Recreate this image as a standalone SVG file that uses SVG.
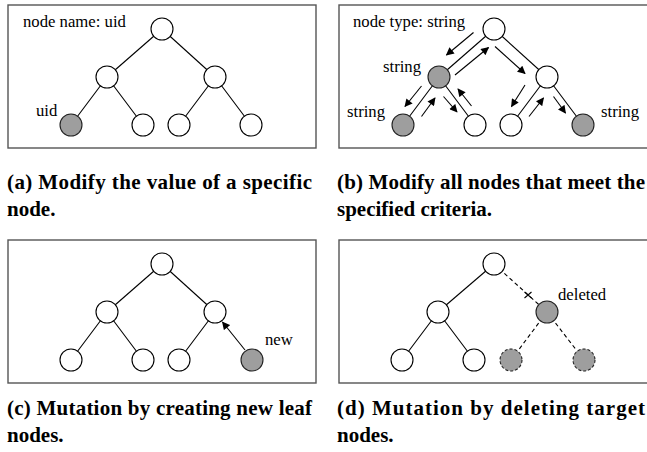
<svg xmlns="http://www.w3.org/2000/svg" width="647" height="452" viewBox="0 0 647 452">
  <style>
    .frame { fill: #fff; stroke: #555; stroke-width: 1.4; }
    .node { fill: #fff; stroke: #000; stroke-width: 1.1; }
    .hit { fill: #9e9e9e; stroke: #222; stroke-width: 1.1; }
    .dashnode { fill: #9e9e9e; stroke: #222; stroke-width: 1.1; stroke-dasharray: 3 2; }
    .edge { stroke: #000; stroke-width: 1.1; fill: none; }
    .dash { stroke: #000; stroke-width: 1.1; fill: none; stroke-dasharray: 4 3; }
    .arrow { stroke: #000; stroke-width: 1.1; fill: none; marker-end: url(#head); }
    .label { font-family: "Liberation Serif", "Times New Roman", serif; font-size: 16.7px; fill: #000; }
    .caption { font-family: "Liberation Serif", "Times New Roman", serif; font-size: 21px; font-weight: bold; fill: #000; }
  </style>
  <defs>
    <marker id="head" viewBox="0 0 10 10" refX="9" refY="5" markerWidth="9" markerHeight="8" markerUnits="userSpaceOnUse" orient="auto">
      <path d="M0,0 L10,5 L0,10 z" fill="#000"/>
    </marker>
  </defs>

  <rect width="647" height="452" fill="#fff"/>

  <!-- panel frames -->
  <g id="frames">
    <rect class="frame" x="8" y="5" width="308" height="143"/>
    <rect class="frame" x="339" y="5" width="310" height="143"/>
    <rect class="frame" x="8" y="240" width="308" height="143"/>
    <rect class="frame" x="339" y="240" width="310" height="143"/>
  </g>

  <!-- connectors -->
  <g id="connectors">
    <!-- (a) -->
    <line class="edge" x1="162" y1="29" x2="107" y2="77"/>
    <line class="edge" x1="162" y1="29" x2="215" y2="77"/>
    <line class="edge" x1="107" y1="77" x2="71" y2="125"/>
    <line class="edge" x1="107" y1="77" x2="143" y2="125"/>
    <line class="edge" x1="215" y1="77" x2="179" y2="125"/>
    <line class="edge" x1="215" y1="77" x2="251" y2="125"/>
    <!-- (b) tree edges -->
    <line class="edge" x1="494" y1="29" x2="439" y2="77"/>
    <line class="edge" x1="494" y1="29" x2="547" y2="77"/>
    <line class="edge" x1="439" y1="77" x2="403" y2="125"/>
    <line class="edge" x1="439" y1="77" x2="475" y2="125"/>
    <line class="edge" x1="547" y1="77" x2="511" y2="125"/>
    <line class="edge" x1="547" y1="77" x2="583" y2="125"/>
    <!-- (b) traversal arrows -->
    <line class="arrow" x1="473.5" y1="32.5" x2="446.5" y2="55"/>
    <line class="arrow" x1="455" y1="75" x2="488.5" y2="47.5"/>
    <line class="arrow" x1="495" y1="46.5" x2="525" y2="73.5"/>
    <line class="arrow" x1="421.5" y1="86" x2="405" y2="106.5"/>
    <line class="arrow" x1="421.5" y1="116.5" x2="435" y2="98"/>
    <line class="arrow" x1="443.5" y1="96.5" x2="457" y2="112"/>
    <line class="arrow" x1="471.5" y1="106" x2="458" y2="89"/>
    <line class="arrow" x1="525" y1="85" x2="511.5" y2="106.5"/>
    <line class="arrow" x1="529" y1="116.5" x2="543.5" y2="98"/>
    <line class="arrow" x1="553.5" y1="96.5" x2="565.5" y2="113"/>
    <!-- (c) -->
    <line class="edge" x1="162" y1="264" x2="107" y2="312"/>
    <line class="edge" x1="162" y1="264" x2="215" y2="312"/>
    <line class="edge" x1="107" y1="312" x2="71" y2="360"/>
    <line class="edge" x1="107" y1="312" x2="143" y2="360"/>
    <line class="edge" x1="215" y1="312" x2="179" y2="360"/>
    <line class="arrow" x1="245" y1="350" x2="222.5" y2="322"/>
    <!-- (d) -->
    <line class="edge" x1="494" y1="264" x2="438" y2="312"/>
    <line class="edge" x1="438" y1="312" x2="402" y2="360"/>
    <line class="edge" x1="438" y1="312" x2="474" y2="360"/>
    <line class="dash" x1="494" y1="264" x2="547" y2="312"/>
    <line class="dash" x1="547" y1="312" x2="511" y2="360"/>
    <line class="dash" x1="547" y1="312" x2="584" y2="360"/>
    <path class="edge" d="M524.5,292 L531.5,298 M531.5,292 L524.5,298"/>
  </g>

  <!-- (a) nodes -->
  <g id="a-root"><circle class="node" cx="162" cy="29" r="11"/></g>
  <g id="a-l"><circle class="node" cx="107" cy="77" r="11"/></g>
  <g id="a-r"><circle class="node" cx="215" cy="77" r="11"/></g>
  <g id="a-ll"><circle class="hit" cx="71" cy="125" r="11"/></g>
  <g id="a-lr"><circle class="node" cx="143" cy="125" r="11"/></g>
  <g id="a-rl"><circle class="node" cx="179" cy="125" r="11"/></g>
  <g id="a-rr"><circle class="node" cx="251" cy="125" r="11"/></g>

  <!-- (b) nodes -->
  <g id="b-root"><circle class="node" cx="494" cy="29" r="11"/></g>
  <g id="b-l"><circle class="hit" cx="439" cy="77" r="11"/></g>
  <g id="b-r"><circle class="node" cx="547" cy="77" r="11"/></g>
  <g id="b-ll"><circle class="hit" cx="403" cy="125" r="11"/></g>
  <g id="b-lr"><circle class="node" cx="475" cy="125" r="11"/></g>
  <g id="b-rl"><circle class="node" cx="511" cy="125" r="11"/></g>
  <g id="b-rr"><circle class="hit" cx="583" cy="125" r="11"/></g>

  <!-- (c) nodes -->
  <g id="c-root"><circle class="node" cx="162" cy="264" r="11"/></g>
  <g id="c-l"><circle class="node" cx="107" cy="312" r="11"/></g>
  <g id="c-r"><circle class="node" cx="215" cy="312" r="11"/></g>
  <g id="c-ll"><circle class="node" cx="71" cy="360" r="11"/></g>
  <g id="c-lr"><circle class="node" cx="143" cy="360" r="11"/></g>
  <g id="c-rl"><circle class="node" cx="179" cy="360" r="11"/></g>
  <g id="c-new"><circle class="hit" cx="252" cy="360" r="11"/></g>

  <!-- (d) nodes -->
  <g id="d-root"><circle class="node" cx="494" cy="264" r="11"/></g>
  <g id="d-l"><circle class="node" cx="438" cy="312" r="11"/></g>
  <g id="d-r"><circle class="hit" cx="547" cy="312" r="11"/></g>
  <g id="d-ll"><circle class="node" cx="402" cy="360" r="11"/></g>
  <g id="d-lr"><circle class="node" cx="474" cy="360" r="11"/></g>
  <g id="d-rl"><circle class="dashnode" cx="511" cy="360" r="11"/></g>
  <g id="d-rr"><circle class="dashnode" cx="584" cy="360" r="11"/></g>

  <!-- panel labels -->
  <g id="labels">
    <text class="label" x="23" y="27">node name: uid</text>
    <text class="label" x="36" y="116">uid</text>
    <text class="label" x="353" y="27">node type: string</text>
    <text class="label" x="383" y="72">string</text>
    <text class="label" x="347" y="117">string</text>
    <text class="label" x="601" y="117">string</text>
    <text class="label" x="265" y="345">new</text>
    <text class="label" x="558" y="300">deleted</text>
  </g>

  <!-- captions -->
  <g id="captions">
    <text class="caption" x="7" y="189" textLength="305" lengthAdjust="spacing">(a) Modify the value of a specific</text>
    <text class="caption" x="7" y="216">node.</text>
    <text class="caption" x="337" y="189" textLength="308" lengthAdjust="spacing">(b) Modify all nodes that meet the</text>
    <text class="caption" x="337" y="216">specified criteria.</text>
    <text class="caption" x="7" y="415" textLength="305" lengthAdjust="spacing">(c) Mutation by creating new leaf</text>
    <text class="caption" x="7" y="442">nodes.</text>
    <text class="caption" x="337" y="415" textLength="308" lengthAdjust="spacing">(d) Mutation by deleting target</text>
    <text class="caption" x="337" y="442">nodes.</text>
  </g>
</svg>
